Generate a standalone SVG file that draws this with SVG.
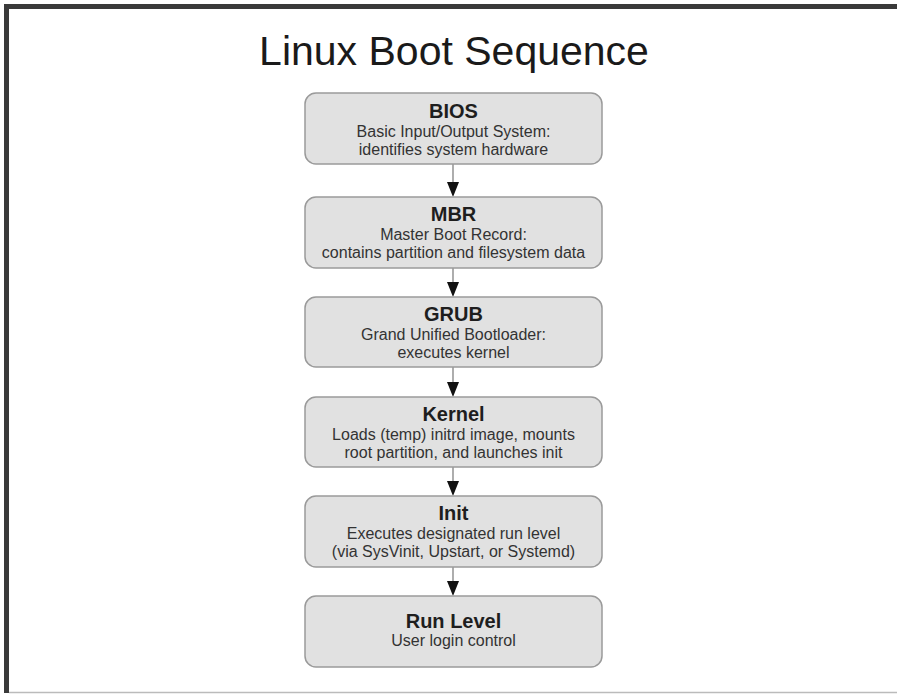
<svg xmlns="http://www.w3.org/2000/svg" width="897" height="694" viewBox="0 0 897 694">
<defs>
<style>
.box{fill:#e1e1e1;stroke:#9a9a9a;stroke-width:1.5}
.t{font-family:"Liberation Sans",Arial,sans-serif;font-size:20px;font-weight:bold;fill:#1e1e1e;text-anchor:middle}
.s{font-family:"Liberation Sans",Arial,sans-serif;font-size:16px;fill:#333;text-anchor:middle}
.edge{stroke:#777;stroke-width:1.2;fill:none}
.head{fill:#111}
</style>
</defs>
<rect x="0" y="0" width="897" height="694" fill="#fff"/>
<path d="M6.5,693 L6.5,6.5 L897,6.5" fill="none" stroke="#3a3a3a" stroke-width="5"/>
<line x1="9" y1="692.5" x2="897" y2="692.5" stroke="#bbb" stroke-width="1.5"/>
<text x="454" y="65" font-family="'Liberation Sans',Arial,sans-serif" font-size="41" fill="#1a1a1a" text-anchor="middle">Linux Boot Sequence</text>
<g id="connectors">
<line class="edge" x1="453" y1="164" x2="453" y2="183"/>
<polygon class="head" points="447,182 459,182 453,197"/>
<line class="edge" x1="453" y1="268" x2="453" y2="283"/>
<polygon class="head" points="447,282 459,282 453,297"/>
<line class="edge" x1="453" y1="367" x2="453" y2="383"/>
<polygon class="head" points="447,382 459,382 453,397"/>
<line class="edge" x1="453" y1="467" x2="453" y2="482"/>
<polygon class="head" points="447,481 459,481 453,496"/>
<line class="edge" x1="453" y1="567" x2="453" y2="582"/>
<polygon class="head" points="447,581 459,581 453,596"/>
</g>
<g id="bios">
<rect class="box" x="305" y="93" width="297" height="71" rx="11"/>
<text class="t" x="453.5" y="118">BIOS</text>
<text class="s" x="453.5" y="137">Basic Input/Output System:</text>
<text class="s" x="453.5" y="155">identifies system hardware</text>
</g>
<g id="mbr">
<rect class="box" x="305" y="197" width="297" height="71" rx="11"/>
<text class="t" x="453.5" y="221">MBR</text>
<text class="s" x="453.5" y="240">Master Boot Record:</text>
<text class="s" x="453.5" y="258">contains partition and filesystem data</text>
</g>
<g id="grub">
<rect class="box" x="305" y="297" width="297" height="70" rx="11"/>
<text class="t" x="453.5" y="321">GRUB</text>
<text class="s" x="453.5" y="340">Grand Unified Bootloader:</text>
<text class="s" x="453.5" y="358">executes kernel</text>
</g>
<g id="kernel">
<rect class="box" x="305" y="397" width="297" height="70" rx="11"/>
<text class="t" x="453.5" y="421">Kernel</text>
<text class="s" x="453.5" y="440">Loads (temp) initrd image, mounts</text>
<text class="s" x="453.5" y="458">root partition, and launches init</text>
</g>
<g id="init">
<rect class="box" x="305" y="496" width="297" height="71" rx="11"/>
<text class="t" x="453.5" y="520">Init</text>
<text class="s" x="453.5" y="539">Executes designated run level</text>
<text class="s" x="453.5" y="557">(via SysVinit, Upstart, or Systemd)</text>
</g>
<g id="runlevel">
<rect class="box" x="305" y="596" width="297" height="71" rx="11"/>
<text class="t" x="453.5" y="628">Run Level</text>
<text class="s" x="453.5" y="646">User login control</text>
</g>
</svg>
